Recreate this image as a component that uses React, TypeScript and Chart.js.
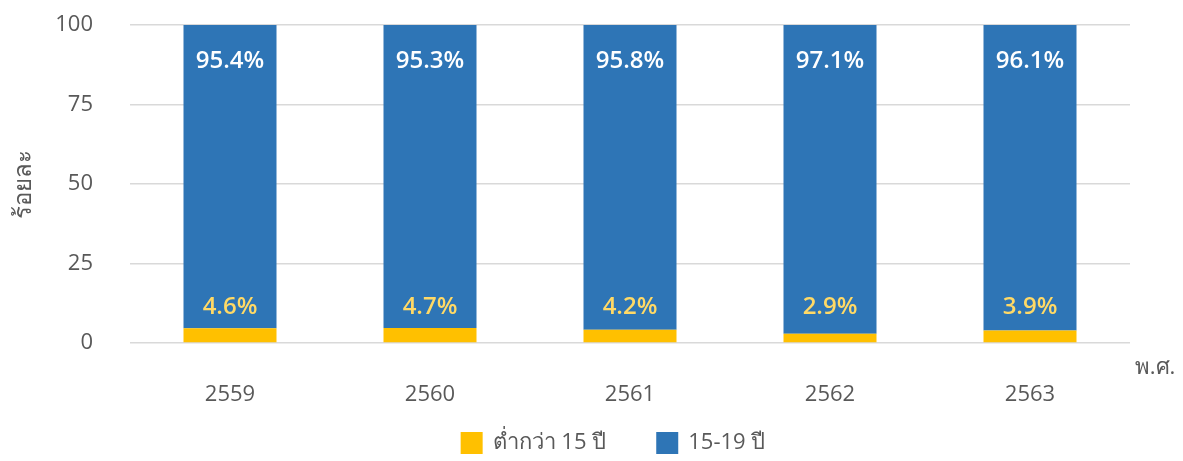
import React, { useEffect, useRef } from "react";
import { Chart, registerables } from "chart.js";

Chart.register(...registerables);

const categories = ["2559", "2560", "2561", "2562", "2563"];
const under15 = [4.6, 4.7, 4.2, 2.9, 3.9];
const age15to19 = [95.4, 95.3, 95.8, 97.1, 96.1];
const seriesNames = ["ต่ำกว่า 15 ปี", "15-19 ปี"];
const seriesColors = ["#FFC000", "#2E75B6"];
const yTicks = [0, 25, 50, 75, 100];

const FONT = "'Open Sans', 'Noto Sans', sans-serif";
const TEXT = "#595959";

const labelPlugin = {
  id: "labels",
  afterDatasetsDraw(chart: any) {
    const ctx = chart.ctx;
    const yScale = chart.scales.y;
    const base = yScale.getPixelForValue(0);
    const top = yScale.getPixelForValue(100);
    ctx.save();
    ctx.textAlign = "center";
    ctx.textBaseline = "middle";
    ctx.font = `600 24px ${FONT}`;
    const m0 = chart.getDatasetMeta(0);
    const m1 = chart.getDatasetMeta(1);
    m0.data.forEach((bar: any, i: number) => {
      ctx.fillStyle = "#FFD966";
      ctx.fillText(under15[i].toFixed(1) + "%", bar.x, base - 36);
    });
    m1.data.forEach((bar: any, i: number) => {
      ctx.fillStyle = "#FFFFFF";
      ctx.fillText(age15to19[i].toFixed(1) + "%", bar.x, top + 36);
    });
    // axis unit label
    ctx.fillStyle = TEXT;
    ctx.font = `22px ${FONT}`;
    ctx.fillText("พ.ศ.", 1155, 368);
    // custom legend
    ctx.textAlign = "left";
    const box = 22;
    const gap = 10;
    const spacing = 50;
    const widths = seriesNames.map((n) => ctx.measureText(n).width);
    const total = widths.reduce((a, w) => a + box + gap + w, 0) + spacing;
    let x = 613 - total / 2;
    const cy = 443;
    seriesNames.forEach((n, i) => {
      ctx.fillStyle = seriesColors[i];
      ctx.fillRect(x, cy - box / 2, box, box);
      x += box + gap;
      ctx.fillStyle = TEXT;
      ctx.fillText(n, x, cy);
      x += widths[i] + spacing;
    });
    ctx.restore();
  },
};

export default function App() {
  const ref = useRef<HTMLCanvasElement>(null);
  useEffect(() => {
    document.body.style.margin = "0";
    const chart = new Chart(ref.current!, {
      type: "bar",
      data: {
        labels: categories,
        datasets: [
          { label: seriesNames[0], data: under15, backgroundColor: seriesColors[0] },
          { label: seriesNames[1], data: age15to19, backgroundColor: seriesColors[1] },
        ],
      },
      options: {
        animation: false,
        responsive: false,
        layout: { padding: { top: 25, right: 53, left: 0, bottom: 0 } },
        datasets: { bar: { categoryPercentage: 1, barPercentage: 0.465 } },
        plugins: {
          legend: { display: false },
          tooltip: { enabled: false },
        },
        scales: {
          x: {
            stacked: true,
            grid: { display: false },
            border: { display: false },
            ticks: { color: TEXT, font: { size: 22, family: FONT }, padding: 31 },
            afterFit: (s: any) => {
              s.height = 118;
              s.paddingLeft = 0;
              s.paddingRight = 0;
            },
          },
          y: {
            stacked: true,
            min: 0,
            max: 100,
            afterBuildTicks: (s: any) => {
              s.ticks = yTicks.map((v) => ({ value: v }));
            },
            afterFit: (s: any) => {
              s.width = 130;
              s.paddingTop = 0;
              s.paddingBottom = 0;
            },
            grid: { color: "#D9D9D9", lineWidth: 1.5, drawTicks: false },
            border: { display: false },
            ticks: { color: TEXT, font: { size: 22, family: FONT }, padding: 37 },
            title: {
              display: true,
              text: "ร้อยละ",
              color: TEXT,
              font: { size: 24, family: FONT },
              padding: { top: 10, bottom: 0 },
            },
          },
        },
      },
      plugins: [labelPlugin],
    });
    return () => chart.destroy();
  }, []);
  return <canvas ref={ref} width={1183} height={461} style={{ display: "block" }} />;
}
